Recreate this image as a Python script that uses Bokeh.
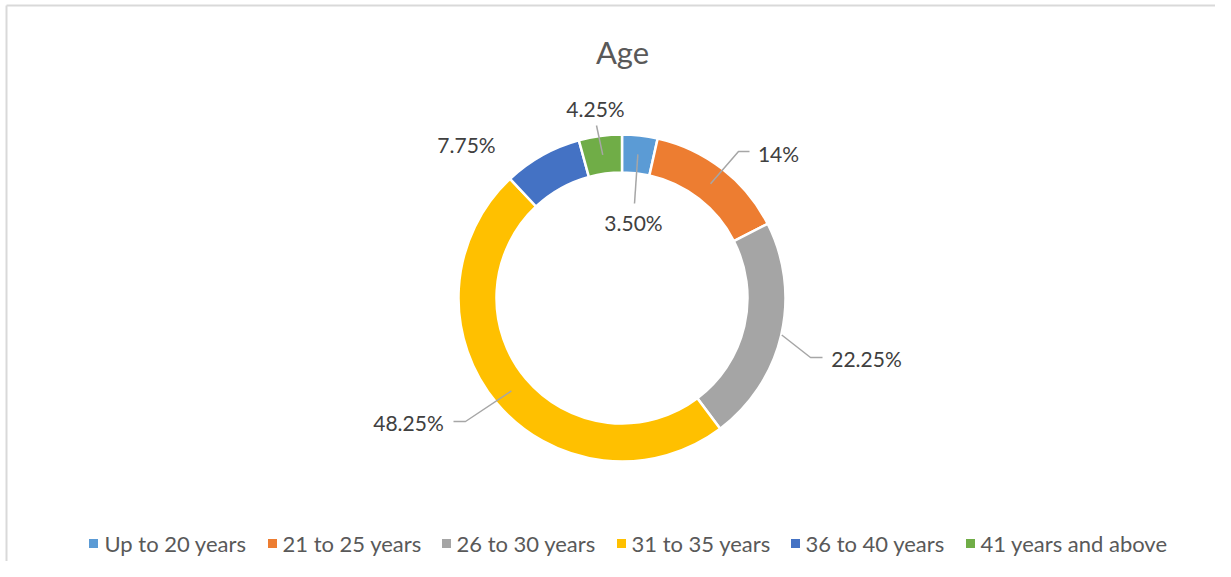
import math
from bokeh.plotting import figure
from bokeh.models import Range1d, ColumnDataSource
from bokeh.core.properties import value
from bokeh.embed import file_html
from bokeh.resources import INLINE

# ---- data ----
categories = ["Up to 20 years", "21 to 25 years", "26 to 30 years",
              "31 to 35 years", "36 to 40 years", "41 years and above"]
values = [3.50, 14.0, 22.25, 48.25, 7.75, 4.25]
labels = ["3.50%", "14%", "22.25%", "48.25%", "7.75%", "4.25%"]
colors = ["#5B9BD5", "#ED7D31", "#A5A5A5", "#FFC000", "#4472C4", "#70AD47"]

# ---- layout (figure pixel coordinates, y down) ----
W, H = 1215, 561
FONT = "Lato"
cx, cy = 621.5, 297.5
r_out, r_in = 163.5, 125.5
label_pos = [(633, 222), (778, 153), (866, 358), (408, 422), (466, 144), (595, 108)]
leaders = [
    (144.5, [(634, 203)]),
    (144.5, [(738, 151), (749, 151)]),
    (164.0, [(810, 357), (822, 357)]),
    (144.5, [(465, 421), (453, 421)]),
    None,
    (144.5, [(596, 125)]),
]
legend_sq_x = [93, 272, 446, 621, 795, 970]
legend_txt_x = [104, 282, 456, 631, 805, 980]
legend_y = 543


def Y(py):
    return H - py


p = figure(width=W, height=H, x_range=Range1d(0, W), y_range=Range1d(0, H),
           output_backend="svg", toolbar_location=None, min_border=0)
p.axis.visible = False
p.grid.visible = False
p.outline_line_color = None
p.background_fill_color = "white"

# chart border (top and left)
p.segment(x0=[6, 6], y0=[Y(5), Y(5)], x1=[W, 6], y1=[Y(5), Y(H)],
          line_color="#d9d9d9", line_width=2)

# donut
total = sum(values)
starts, ends, mids = [], [], []
cum = 0.0
for v in values:
    a0 = math.pi / 2 - 2 * math.pi * cum / total
    cum += v
    a1 = math.pi / 2 - 2 * math.pi * cum / total
    starts.append(a1)
    ends.append(a0)
    mids.append((a0 + a1) / 2)

src = ColumnDataSource(dict(start=starts, end=ends, color=colors))
p.annular_wedge(x=cx, y=Y(cy), inner_radius=r_in, outer_radius=r_out,
                start_angle="start", end_angle="end", direction="anticlock",
                fill_color="color", line_color="white", line_width=2.5, source=src)

# leader lines
xs, ys = [], []
for m, ld in zip(mids, leaders):
    if ld is None:
        continue
    r, pts = ld
    x0 = cx + r * math.cos(m)
    y0 = Y(cy) + r * math.sin(m)
    xs.append([x0] + [pt[0] for pt in pts])
    ys.append([y0] + [Y(pt[1]) for pt in pts])
p.multi_line(xs=xs, ys=ys, line_color="#a6a6a6", line_width=1.5)

# data labels
p.text(x=[lp[0] for lp in label_pos], y=[Y(lp[1]) for lp in label_pos], text=labels,
       text_font=value(FONT), text_font_size="21px", text_color="#404040",
       text_align="center", text_baseline="middle")

# title
p.text(x=[622], y=[Y(51)], text=["Age"], text_font=value(FONT), text_font_size="31px",
       text_color="#595959", text_align="center", text_baseline="middle")

# legend
p.rect(x=legend_sq_x, y=[Y(legend_y)] * 6, width=9, height=9, fill_color=colors, line_color=None)
p.text(x=legend_txt_x, y=[Y(legend_y)] * 6, text=categories, text_font=value(FONT),
       text_font_size="22px", text_color="#595959", text_align="left", text_baseline="middle")

open("out.html", "w").write(file_html(p, INLINE))
